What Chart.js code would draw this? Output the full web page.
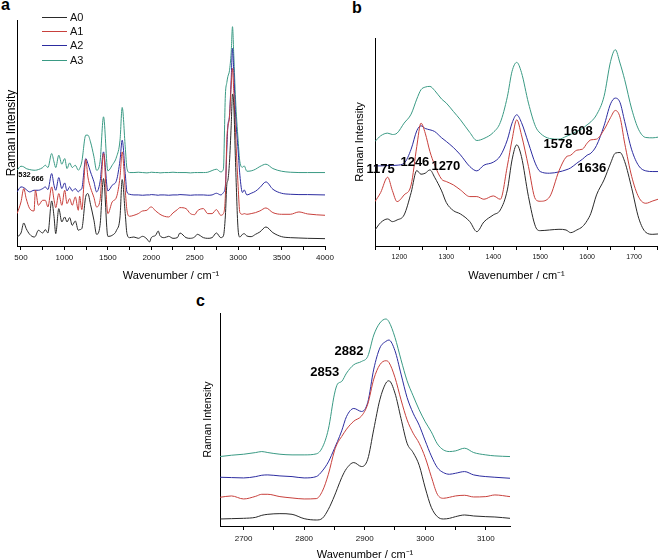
<!DOCTYPE html>
<html><head><meta charset="utf-8">
<script src="https://cdn.jsdelivr.net/npm/chart.js@4.4.1/dist/chart.umd.min.js"></script>
<style>
html,body{margin:0;padding:0;background:#fff;overflow:hidden;width:658px;height:560px;position:relative;}
canvas{position:absolute;}
.pl{position:absolute;font:bold 16px "Liberation Sans",Arial,sans-serif;line-height:16px;color:#000;}
</style></head><body>
<div class="pl" style="left:1px;top:-3px">a</div>
<div class="pl" style="left:352px;top:0px">b</div>
<div class="pl" style="left:196px;top:293px">c</div>
<canvas id="ca" width="345" height="290" style="left:0;top:0"></canvas>
<canvas id="cb" width="335" height="290" style="left:330px;top:0"></canvas>
<canvas id="cc" width="350" height="295" style="left:180px;top:270px"></canvas>
<script>
const seriesNames = ['A0', 'A1', 'A2', 'A3'];
const seriesColors = ['#2a2a2a', '#c8403c', '#2c2ca0', '#3a9a84'];

// ---------- panel a (full spectrum) ----------
const aWavenumber = [455,500,532,560,600,650,666,700,750,780,810,853,880,900,935,970,1003,1030,1060,1090,1125,1160,1175,1200,1246,1270,1300,1340,1370,1410,1450,1500,1550,1600,1640,1665,1700,1720,1750,1800,1850,1900,1950,1980,2000,2050,2080,2100,2150,2200,2250,2300,2330,2400,2450,2500,2530,2600,2650,2700,2750,2800,2830,2853,2870,2882,2900,2920,2935,2950,2970,3000,3020,3050,3070,3100,3150,3200,3250,3320,3400,3500,3600,3700,3800,4000];
const aA0 = [27,39,69,52,35,27,29,47,39,49,39,135,89,37,112,72,87,72,85,62,75,47,49,52,149,157,125,77,35,62,202,29,32,47,87,199,97,37,25,27,23,29,21,12,25,32,45,31,25,29,23,25,39,25,23,27,35,25,23,25,39,25,30,90,185,197,250,360,455,420,250,48,27,35,37,30,28,35,42,57,40,28,25,24,23,22];
const aA1 = [97,132,172,142,112,105,167,122,137,137,117,177,139,115,157,122,167,127,142,122,147,107,149,109,259,207,175,145,117,137,277,97,132,147,207,282,167,107,89,92,97,105,107,115,117,105,99,95,89,87,99,109,115,112,97,94,105,112,97,97,109,92,97,150,320,358,385,480,532,460,340,178,100,95,97,95,97,100,105,114,100,95,95,102,96,92];
const aA2 = [162,177,175,169,162,167,167,167,172,177,169,217,182,167,205,172,189,165,177,165,172,162,167,172,262,247,222,192,162,192,282,165,182,197,257,317,217,162,155,153,153,152,153,153,154,153,152,153,153,152,153,153,154,153,152,153,153,153,152,153,158,153,160,180,290,360,390,500,592,520,395,285,212,160,168,153,158,164,175,192,170,158,155,154,154,153];
const aA3 = [227,239,237,232,229,227,227,229,235,242,235,277,252,235,272,245,262,232,249,235,242,227,232,252,332,332,312,267,227,252,387,225,242,267,317,415,297,232,220,220,221,220,219,220,221,220,220,219,220,220,221,220,220,220,219,220,220,220,221,226,230,222,230,452,490,508,525,580,657,570,440,316,252,236,240,224,225,230,238,245,232,224,221,220,220,220];
const aTickValues = [500,750,1000,1250,1500,1750,2000,2250,2500,2750,3000,3250,3500,3750,4000];
const aTickLabels = ['500','','1000','','1500','','2000','','2500','','3000','','3500','','4000'];
const aPeakText = ['532', '666'];
const aPeakWn = [540, 690];
const aPeakInt = [212, 200];

// ---------- panel b (1150-1750) ----------
const bWavenumber = [1148,1160,1175,1185,1195,1210,1225,1237,1246,1255,1265,1275,1290,1300,1315,1330,1350,1365,1380,1400,1415,1430,1440,1450,1460,1475,1490,1500,1520,1540,1555,1565,1578,1590,1600,1608,1620,1636,1650,1660,1670,1680,1695,1710,1725,1740,1751];
const bA0 = [48,70,81,73,78,93,160,226,215,218,228,206,165,130,106,96,73,43,72,93,108,168,258,303,268,148,58,46,48,50,48,40,48,58,76,98,153,198,248,278,280,253,173,83,41,35,36];
const bA1 = [133,160,206,166,133,153,183,298,368,338,283,243,200,193,183,168,148,148,140,150,140,240,318,378,333,238,140,134,147,225,266,272,287,290,308,318,320,348,385,406,386,308,208,146,128,135,140];
const bA2 = [240,240,241,241,242,248,290,345,360,352,348,343,324,313,295,273,238,225,242,251,270,318,368,393,370,308,246,223,218,222,228,234,248,260,272,278,301,360,426,443,430,373,288,240,225,223,223];
const bA3 = [313,330,338,334,338,368,395,440,468,476,478,466,440,428,403,378,340,316,322,340,370,447,523,550,520,428,358,338,322,320,328,334,343,352,363,372,393,448,553,588,548,498,410,348,325,324,326];
const bTickValues = [1150,1200,1250,1300,1350,1400,1450,1500,1550,1600,1650,1700,1750];
const bTickLabels = ['','1200','','1300','','1400','','1500','','1600','','1700',''];
const bPeakText = ['1175', '1246', '1270', '1578', '1608', '1636'];
const bPeakWn = [1160, 1233, 1299, 1538, 1581, 1610];
const bPeakInt = [228, 249, 237, 303, 342, 231];

// ---------- panel c (2660-3140) ----------
const cWavenumber = [2661,2680,2700,2720,2730,2740,2760,2780,2800,2820,2830,2840,2850,2855,2862,2870,2882,2895,2905,2915,2925,2935,2940,2950,2960,2970,2980,2990,3000,3010,3020,3030,3040,3050,3065,3080,3100,3115,3140];
const cA0 = [21,22,23,26,32,35,37,35,22,18,23,50,90,113,145,172,190,178,200,290,378,428,435,398,322,248,220,182,114,56,28,21,23,28,33,30,28,27,23];
const cA1 = [86,90,81,89,95,95,88,84,81,82,104,155,225,248,268,290,314,330,365,440,483,495,490,445,378,318,278,248,205,148,95,83,86,90,92,87,88,93,88];
const cA2 = [146,145,144,148,152,153,150,148,144,148,165,192,232,253,285,328,352,343,370,470,533,553,557,525,455,385,338,302,255,210,175,160,155,158,163,153,148,146,143];
const cA3 = [208,212,215,220,223,220,215,213,213,216,235,290,395,425,433,458,483,493,508,572,608,620,612,565,498,435,390,348,312,282,246,228,223,225,233,220,213,210,208];
const cTickValues = [2700,2750,2800,2850,2900,2950,3000,3050,3100];
const cTickLabels = ['2700','','2800','','2900','','3000','','3100'];
const cPeakText = ['2853', '2882'];
const cPeakWn = [2834, 2874];
const cPeakInt = [461, 523];

const FONT = '"Liberation Sans", Arial, sans-serif';
Chart.defaults.font.family = FONT;

function toPoints(wn, vals) { return wn.map((w, i) => ({x: w, y: vals[i]})); }

function peakPlugin(texts, wns, ints, font) {
  return {
    id: 'peakLabels',
    afterDatasetsDraw(chart) {
      const {ctx} = chart; const xs = chart.scales.x, ys = chart.scales.y;
      ctx.save();
      ctx.font = font; ctx.fillStyle = '#000'; ctx.textAlign = 'center'; ctx.textBaseline = 'middle';
      texts.forEach((t, i) => ctx.fillText(t, xs.getPixelForValue(wns[i]), ys.getPixelForValue(ints[i])));
      ctx.restore();
    }
  };
}

const lineLegend = {
  id: 'lineLegend',
  afterDraw(chart) {
    const {ctx, chartArea} = chart;
    ctx.save();
    ctx.font = '11px ' + FONT; ctx.textBaseline = 'middle'; ctx.textAlign = 'left';
    chart.data.datasets.forEach((ds, i) => {
      const y = Math.round(chartArea.top - 3 + i * 14.2) + 0.5;
      ctx.strokeStyle = ds.borderColor; ctx.lineWidth = 1;
      ctx.beginPath(); ctx.moveTo(chartArea.left + 25, y); ctx.lineTo(chartArea.left + 50, y); ctx.stroke();
      ctx.fillStyle = '#111';
      ctx.fillText(ds.label, chartArea.left + 53, y + 0.5);
    });
    ctx.restore();
  }
};

function makeChart(id, p) {
  return new Chart(document.getElementById(id), {
    type: 'line',
    data: {
      datasets: p.series.map((vals, i) => ({
        label: seriesNames[i], data: toPoints(p.wn, vals), borderColor: seriesColors[i],
        borderWidth: 1, pointRadius: 0, fill: false, cubicInterpolationMode: 'monotone'
      }))
    },
    options: {
      responsive: false, animation: false, events: [],
      layout: {padding: p.pad},
      plugins: {legend: {display: false}, tooltip: {enabled: false}},
      scales: {
        x: {
          type: 'linear', min: p.xmin, max: p.xmax,
          afterBuildTicks: s => { s.ticks = p.tickValues.map(v => ({value: v})); },
          afterFit: s => { s.height = p.xh; },
          ticks: {autoSkip: false, maxRotation: 0, minRotation: 0,
                  padding: p.tpad, color: '#111', font: {size: p.tick},
                  callback: (v, i) => p.tickLabels[i]},
          grid: {display: true, drawOnChartArea: false, drawTicks: true, tickLength: 4, color: '#000', tickColor: '#000'},
          border: {display: true, color: '#000', width: 1},
          title: {display: true, text: 'Wavenumber / cm⁻¹', color: '#000', font: {size: 11, lineHeight: 1},
                  padding: {top: 0, bottom: p.xtpad}}
        },
        y: {
          type: 'linear', min: 0, max: p.ymax,
          afterFit: s => { s.width = p.yw; },
          ticks: {display: false}, grid: {display: false},
          border: {display: true, color: '#000', width: 1},
          title: {display: true, text: 'Raman Intensity', color: '#000', font: {size: p.ytf, lineHeight: 1},
                  padding: {top: p.ytpad, bottom: 0}}
        }
      }
    },
    plugins: p.plugins
  });
}

makeChart('ca', {
  wn: aWavenumber, series: [aA0, aA1, aA2, aA3],
  xmin: 454, xmax: 4000, tickValues: aTickValues, tickLabels: aTickLabels, ymax: 677,
  pad: {top: 20, right: 20, bottom: 0, left: 0}, xh: 44, yw: 17,
  tick: 8, tpad: 3, xtpad: 8.5, ytf: 12, ytpad: 5.5,
  plugins: [lineLegend, peakPlugin(aPeakText, aPeakWn, aPeakInt, 'bold 7.5px ' + FONT)]
});
makeChart('cb', {
  wn: bWavenumber, series: [bA0, bA1, bA2, bA3],
  xmin: 1148, xmax: 1751, tickValues: bTickValues, tickLabels: bTickLabels, ymax: 623,
  pad: {top: 38, right: 7, bottom: 0, left: 0}, xh: 44, yw: 45,
  tick: 7, tpad: 3, xtpad: 8.5, ytf: 11, ytpad: 24.5,
  plugins: [peakPlugin(bPeakText, bPeakWn, bPeakInt, 'bold 13px ' + FONT)]
});
makeChart('cc', {
  wn: cWavenumber, series: [cA0, cA1, cA2, cA3],
  xmin: 2661, xmax: 3140, tickValues: cTickValues, tickLabels: cTickLabels, ymax: 638,
  pad: {top: 43, right: 20, bottom: 0, left: 0}, xh: 39, yw: 40,
  tick: 8, tpad: 4, xtpad: 4.5, ytf: 10.5, ytpad: 23,
  plugins: [peakPlugin(cPeakText, cPeakWn, cPeakInt, 'bold 13px ' + FONT)]
});
</script></body></html>
